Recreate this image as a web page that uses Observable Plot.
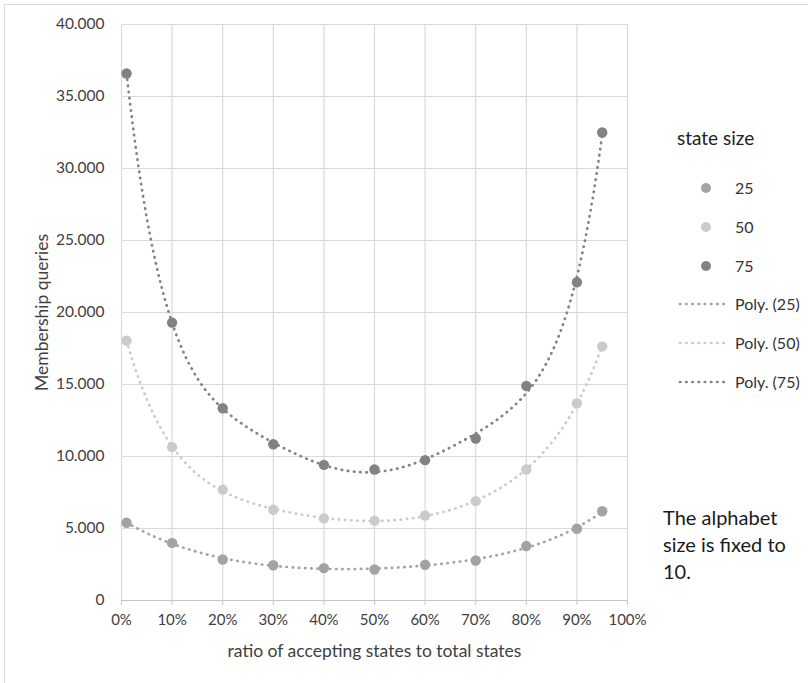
<!DOCTYPE html>
<html>
<head>
<meta charset="utf-8">
<script src="https://cdn.jsdelivr.net/npm/d3@7"></script>
<script src="https://cdn.jsdelivr.net/npm/@observablehq/plot@0.6"></script>
<style>
  html, body { margin: 0; padding: 0; background: #fff; overflow: hidden; }
  #wrap { position: relative; width: 808px; height: 683px; font-family: Lato, "Open Sans", sans-serif; }
  #frame { position: absolute; left: 4px; top: 4px; width: 900px; height: 800px; border: 1.5px solid #dadada; box-sizing: border-box; }
  #chart { position: absolute; left: 0; top: 0; }
  #legend { position: absolute; left: 0; top: 0; }
</style>
</head>
<body>
<div id="wrap">
  <div id="frame"></div>
  <div id="chart"></div>
  <svg id="legend" width="808" height="683"></svg>
</div>
<script>
// Ratio of accepting states (fraction of all states)
const ratios = [0.01, 0.10, 0.20, 0.30, 0.40, 0.50, 0.60, 0.70, 0.80, 0.90, 0.95];

// Average number of membership queries per state size
const queries25 = [5400, 4000, 2850, 2450, 2250, 2150, 2480, 2780, 3780, 4980, 6200];
const queries50 = [18050, 10650, 7700, 6300, 5700, 5550, 5900, 6900, 9100, 13700, 17650];
const queries75 = [36600, 19300, 13350, 10850, 9420, 9100, 9750, 11250, 14900, 22100, 32500];

const stateSizes = ["25", "50", "75"];
const seriesColors = ["#a3a3a3", "#cbcbcb", "#828282"];

const xTicks = [0, 0.1, 0.2, 0.3, 0.4, 0.5, 0.6, 0.7, 0.8, 0.9, 1.0];
const yTicks = [0, 5000, 10000, 15000, 20000, 25000, 30000, 35000, 40000];

const polyOrder = 6;
const dotted = {strokeWidth: 2.7, strokeDasharray: "0.4,5.8", strokeLinecap: "round"};

// Long table of observations
const seriesValues = [queries25, queries50, queries75];
const points = [];
stateSizes.forEach((s, i) => ratios.forEach((r, j) => points.push({size: s, ratio: r, queries: seriesValues[i][j]})));

// Least-squares polynomial trendline (like a spreadsheet "Poly." trendline)
function polyFit(xs, ys, order) {
  const c = 0.48, h = 0.47;
  const t = xs.map(x => (x - c) / h);
  const n = order + 1;
  const A = Array.from({length: n}, () => new Array(n + 1).fill(0));
  for (let k = 0; k < t.length; k++) {
    const pw = [];
    for (let p = 0; p < 2 * n; p++) pw.push(Math.pow(t[k], p));
    for (let i = 0; i < n; i++) {
      for (let j = 0; j < n; j++) A[i][j] += pw[i + j];
      A[i][n] += pw[i] * ys[k];
    }
  }
  for (let col = 0; col < n; col++) {
    let piv = col;
    for (let r = col + 1; r < n; r++) if (Math.abs(A[r][col]) > Math.abs(A[piv][col])) piv = r;
    [A[col], A[piv]] = [A[piv], A[col]];
    for (let r = 0; r < n; r++) {
      if (r === col) continue;
      const f = A[r][col] / A[col][col];
      for (let q = col; q <= n; q++) A[r][q] -= f * A[col][q];
    }
  }
  const coef = A.map((row, i) => row[n] / row[i]);
  return x => { const u = (x - c) / h; let v = 0; for (let i = n - 1; i >= 0; i--) v = v * u + coef[i]; return v; };
}

const trend = [];
stateSizes.forEach((s, i) => {
  const f = polyFit(ratios, seriesValues[i], polyOrder);
  const x0 = ratios[0], x1 = ratios[ratios.length - 1];
  for (let k = 0; k <= 200; k++) {
    const x = x0 + (x1 - x0) * k / 200;
    trend.push({size: s, ratio: x, queries: f(x)});
  }
});

const thousands = d3.formatLocale({decimal: ",", thousands: ".", grouping: [3], currency: ["", ""]}).format(",");
const percent = d3.format(".0%");

const chart = Plot.plot({
  width: 808,
  height: 683,
  marginLeft: 121,
  marginRight: 181,
  marginTop: 24,
  marginBottom: 83,
  style: {fontFamily: "Lato, 'Open Sans', sans-serif", fontSize: "15px", color: "#404040", background: "transparent"},
  x: {domain: [0, 1]},
  y: {domain: [0, 40000]},
  color: {domain: stateSizes, range: seriesColors},
  marks: [
    Plot.gridX(xTicks, {stroke: "#d9d9d9", strokeOpacity: 1, strokeWidth: 1.2}),
    Plot.gridY(yTicks, {stroke: "#d9d9d9", strokeOpacity: 1, strokeWidth: 1.2}),
    Plot.ruleY([0], {stroke: "#c4c4c4", strokeWidth: 1.2}),
    Plot.axisX(xTicks, {tickSize: 5, tickPadding: 9, stroke: "#c4c4c4", fontSize: 15, fill: "#404040",
      tickFormat: percent,
      label: "ratio of accepting states to total states", labelAnchor: "center", labelArrow: "none", labelOffset: 56}),
    Plot.axisY(yTicks, {tickSize: 0, tickPadding: 17, fontSize: 15.5, fill: "#404040",
      tickFormat: thousands,
      label: "Membership queries", labelAnchor: "center", labelArrow: "none", labelOffset: 86}),
    Plot.line(trend, {x: "ratio", y: "queries", z: "size", stroke: "size", curve: "linear", ...dotted}),
    Plot.dot(points, {x: "ratio", y: "queries", fill: "size", r: 5.2})
  ]
});

d3.select(chart).selectAll("[aria-label='x-axis label'] text, [aria-label='y-axis label'] text")
  .style("font-size", "17.5px").attr("fill", "#404040");

document.getElementById("chart").appendChild(chart);

// Legend and note on the right-hand side
const lg = d3.select("#legend").style("font-family", "Lato, 'Open Sans', sans-serif");
lg.append("text").attr("x", 677).attr("y", 145).attr("font-size", 19).attr("fill", "#222").text("state size");
stateSizes.forEach((s, i) => {
  const y = 188 + i * 39;
  lg.append("circle").attr("cx", 706).attr("cy", y).attr("r", 5).attr("fill", seriesColors[i]);
  lg.append("text").attr("x", 735).attr("y", y).attr("dy", "0.35em").attr("font-size", 16).attr("fill", "#333").text(s);
});
stateSizes.forEach((s, i) => {
  const y = 304 + i * 39;
  lg.append("line").attr("x1", 680).attr("x2", 728).attr("y1", y).attr("y2", y)
    .attr("stroke", seriesColors[i]).attr("stroke-width", dotted.strokeWidth)
    .attr("stroke-dasharray", dotted.strokeDasharray).attr("stroke-linecap", dotted.strokeLinecap);
  lg.append("text").attr("x", 735).attr("y", y).attr("dy", "0.35em").attr("font-size", 16).attr("fill", "#333").text(`Poly. (${s})`);
});
const note = ["The alphabet", "size is fixed to", "10."];
note.forEach((line, i) => {
  lg.append("text").attr("x", 663).attr("y", 518 + i * 27).attr("dy", "0.35em").attr("font-size", 20).attr("fill", "#1a1a1a").text(line);
});
</script>
</body>
</html>
